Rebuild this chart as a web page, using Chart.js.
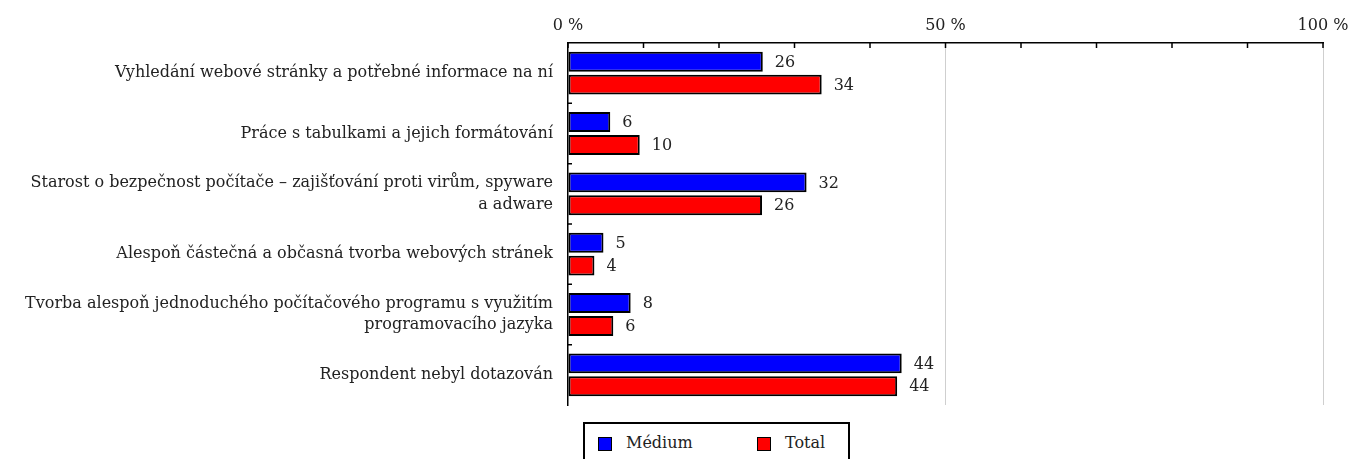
<!DOCTYPE html>
<html>
<head>
<meta charset="utf-8">
<script src="https://cdn.jsdelivr.net/npm/chart.js@4"></script>
<style>
body { margin: 0; background: #fff; }
#wrap { position: relative; width: 1348px; height: 459px; }
#legend {
    position: absolute; left: 583px; top: 422px; width: 263px; height: 40px;
    border: 2px solid #000; box-sizing: content-box; background: #fff;
    font-family: 'DejaVu Serif', serif; font-size: 16px; color: #222;
}
#legend span.sw { position: absolute; top: 13px; width: 12px; height: 12px; border: 1.5px solid #000; }
#legend span.tx { position: absolute; top: 9px; }
</style>
</head>
<body>
<div id="wrap">
    <canvas id="chart" width="1348" height="459"></canvas>
    <div id="legend">
        <span class="sw" style="left:13px;background:#0000ff"></span><span class="tx" style="left:41px">Médium</span>
        <span class="sw" style="left:172px;background:#ff0000"></span><span class="tx" style="left:200px">Total</span>
    </div>
</div>
<script>
// Categories (multi-line labels as arrays)
const categories = [
    'Vyhledání webové stránky a potřebné informace na ní',
    'Práce s tabulkami a jejich formátování',
    ['Starost o bezpečnost počítače – zajišťování proti virům, spyware', 'a adware'],
    'Alespoň částečná a občasná tvorba webových stránek',
    ['Tvorba alespoň jednoduchého počítačového programu s využitím', 'programovacího jazyka'],
    'Respondent nebyl dotazován'
];

// Share of respondents, %
const mediumValues = [25.8, 5.6, 31.6, 4.7, 8.3, 44.2];
const totalValues = [33.6, 9.5, 25.7, 3.5, 6.0, 43.6];

// Top axis labels shown only at these values
const labelledTicks = [0, 50, 100];

Chart.defaults.font.family = "'DejaVu Serif', serif";
Chart.defaults.font.size = 16;
Chart.defaults.color = '#222';

// Value labels right of each bar
const valueLabels = {
    id: 'valueLabels',
    afterDatasetsDraw(chart) {
        const ctx = chart.ctx;
        ctx.save();
        ctx.font = "16px 'DejaVu Serif', serif";
        ctx.fillStyle = '#222';
        ctx.textBaseline = 'middle';
        chart.data.datasets.forEach((ds, i) => {
            chart.getDatasetMeta(i).data.forEach((bar, j) => {
                ctx.fillText(Math.round(ds.data[j]), bar.x + 12, bar.y + 1);
            });
        });
        ctx.restore();
    }
};

// Small inward tick marks on both axes
const innerTicks = {
    id: 'innerTicks',
    afterDraw(chart) {
        const ctx = chart.ctx;
        const x = chart.scales.x, y = chart.scales.y;
        ctx.save();
        ctx.strokeStyle = '#000';
        ctx.lineWidth = 1.5;
        ctx.beginPath();
        for (let v = 0; v <= 100; v += 10) {
            const px = x.getPixelForValue(v);
            ctx.moveTo(px, x.bottom);
            ctx.lineTo(px, x.bottom + 5);
        }
        for (let i = 1; i < categories.length; i++) {
            const py = (y.getPixelForValue(i - 1) + y.getPixelForValue(i)) / 2;
            ctx.moveTo(y.right, py);
            ctx.lineTo(y.right + 4, py);
        }
        ctx.stroke();
        ctx.restore();
    }
};

new Chart(document.getElementById('chart'), {
    type: 'bar',
    data: {
        labels: categories,
        datasets: [
            { label: 'Médium', data: mediumValues, backgroundColor: '#0000ff' },
            { label: 'Total', data: totalValues, backgroundColor: '#ff0000' }
        ]
    },
    options: {
        indexAxis: 'y',
        responsive: false,
        animation: false,
        layout: { padding: { top: 0, right: 25, bottom: 54, left: 0 } },
        datasets: {
            bar: {
                borderColor: '#000',
                borderWidth: 2,
                borderSkipped: false,
                categoryPercentage: 0.76,
                barPercentage: 0.87
            }
        },
        plugins: {
            legend: { display: false },
            tooltip: { enabled: false }
        },
        scales: {
            x: {
                position: 'top',
                min: 0,
                max: 100,
                afterFit: s => { s.height = 43; s.paddingLeft = 0; s.paddingRight = 0; },
                ticks: {
                    stepSize: 10,
                    autoSkip: false,
                    maxRotation: 0,
                    padding: 8,
                    callback: v => labelledTicks.includes(v) ? v + ' %' : ''
                },
                grid: {
                    drawTicks: false,
                    color: c => (c.tick && (c.tick.value === 50 || c.tick.value === 100)) ? '#cfcfcf' : 'rgba(0,0,0,0)'
                },
                border: { display: true, color: '#000', width: 1.5 }
            },
            y: {
                afterFit: s => { s.width = 568; },
                ticks: { padding: 15, color: '#222', font: { lineHeight: 1.35 } },
                grid: { drawTicks: false, color: 'rgba(0,0,0,0)' },
                border: { display: true, color: '#000', width: 1.5 }
            }
        }
    },
    plugins: [valueLabels, innerTicks]
});
</script>
</body>
</html>
